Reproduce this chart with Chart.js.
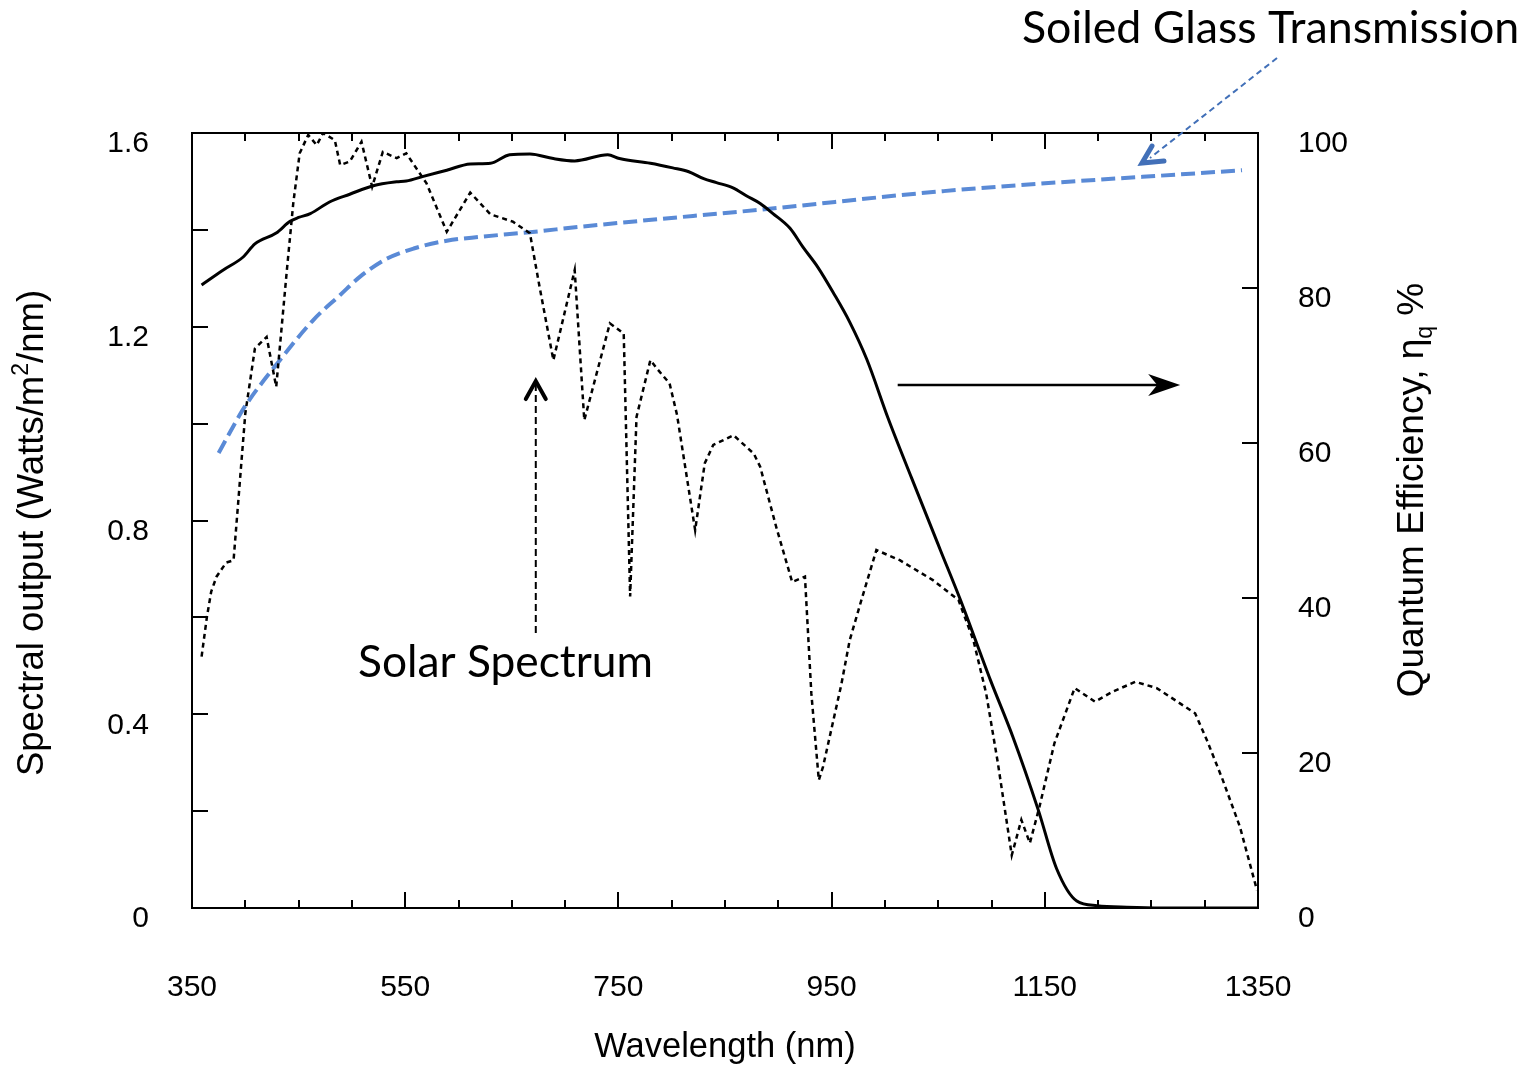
<!DOCTYPE html>
<html><head><meta charset="utf-8">
<script src="https://cdn.jsdelivr.net/npm/chart.js@4/dist/chart.umd.min.js"></script>
<style>html,body{margin:0;padding:0;background:#fff}#wrap{width:1536px;height:1070px}</style>
</head><body><div id="wrap"><canvas id="c" width="1536" height="1070"></canvas></div>
<script>
// ---- data ----
const solarWl = [359,364,368,373,382,389,400,409,420,429,439,445,451,459,467,473,484,489,498,509,519,529,542,551,570,589,611,630,651,667,676,689,709,718,742,755,761,767,780,786,798,805,822,831,839,858,877,883,898,913,925,931,938,942,959,967,978,992,1014,1045,1069,1083,1095,1106,1119,1128,1136,1145,1159,1178,1197,1214,1235,1255,1291,1302,1317,1333,1349];
const solarVal = [0.519,0.601,0.653,0.684,0.713,0.718,1.021,1.155,1.179,1.076,1.317,1.455,1.558,1.596,1.575,1.600,1.585,1.534,1.541,1.582,1.489,1.561,1.548,1.558,1.496,1.396,1.477,1.432,1.417,1.393,1.283,1.131,1.317,1.007,1.207,1.186,0.643,1.014,1.131,1.114,1.083,1.018,0.780,0.918,0.956,0.976,0.938,0.911,0.787,0.673,0.684,0.443,0.264,0.292,0.460,0.553,0.636,0.739,0.718,0.677,0.636,0.553,0.443,0.299,0.109,0.182,0.134,0.209,0.340,0.454,0.426,0.447,0.467,0.454,0.402,0.347,0.264,0.168,0.037];
const qeWl = [359,379,398,409,429,442,450,461,479,498,520,542,551,567,589,611,630,648,667,689,709,740,751,780,801,816,830,842,858,870,883,895,911,923,937,952,967,983,1003,1025,1052,1071,1099,1120,1144,1161,1180,1199,1227,1260,1350];
const qeVal = [80.4,82.3,84.0,85.7,87.1,88.6,89.1,89.6,91.1,92.1,93.2,93.7,93.8,94.4,95.2,96.0,96.1,97.2,97.3,96.7,96.4,97.2,96.7,96.1,95.5,95.0,94.1,93.6,92.9,91.9,90.9,89.6,87.7,85.3,82.7,79.3,75.6,70.8,63.2,55.5,46.2,39.7,29.4,22.1,12.6,5.1,0.9,0.3,0.1,0,0];
const glassWl = [375,393,401,429,464,489,508,533,558,589,620,667,714,820,883,1055,1335];
const glassVal = [58.7,63.2,65.0,70.1,75.9,79.1,81.5,83.8,85.1,86.1,86.6,87.2,87.9,89.3,90.1,92.5,95.2];
const xTickLabels = [350,550,750,950,1150,1350];
const leftTickLabels = ['0','0.4','0.8','1.2','1.6'];
const rightTickLabels = ['0','20','40','60','80','100'];

const pts = (xs, ys) => xs.map((v, i) => ({x: v, y: ys[i]}));
const TICKFONT = {family: "'Liberation Sans', Arial, sans-serif", size: 30};
const TITLEFONT = "'Liberation Sans', Arial, sans-serif";

const deco = {
  id: 'deco',
  afterDatasetsDraw(chart) {
    const {ctx, chartArea: a, scales} = chart;
    const x = scales.x, y = scales.y, y1 = scales.y1;
    ctx.save();
    ctx.strokeStyle = '#000';
    ctx.lineWidth = 2;
    ctx.strokeRect(a.left, a.top, a.right - a.left, a.bottom - a.top);
    ctx.beginPath();
    x.ticks.forEach(t => {
      const px = Math.round(x.getPixelForValue(t.value));
      const L = xTickLabels.includes(t.value) ? 16 : 8;
      ctx.moveTo(px, a.bottom); ctx.lineTo(px, a.bottom - L);
      ctx.moveTo(px, a.top); ctx.lineTo(px, a.top + L);
    });
    y.ticks.forEach(t => {
      const py = Math.round(y.getPixelForValue(t.value));
      ctx.moveTo(a.left, py); ctx.lineTo(a.left + 16, py);
    });
    y1.ticks.forEach(t => {
      const py = Math.round(y1.getPixelForValue(t.value));
      ctx.moveTo(a.right, py); ctx.lineTo(a.right - 16, py);
    });
    ctx.stroke();
    ctx.restore();
  },
  afterDraw(chart) {
    const {ctx, chartArea: a, scales} = chart;
    const x = scales.x, y = scales.y, y1 = scales.y1;
    ctx.save();
    // ---- left axis title with superscript ----
    ctx.fillStyle = '#000';
    ctx.save();
    ctx.translate(33, 533);
    ctx.rotate(-Math.PI / 2);
    ctx.textBaseline = 'middle';
    const big = '36.5px ' + TITLEFONT, small = '23px ' + TITLEFONT;
    const p1 = 'Spectral output (Watts/m', p2 = '2', p3 = '/nm)';
    ctx.font = big; const w1 = ctx.measureText(p1).width, w3 = ctx.measureText(p3).width;
    ctx.font = small; const w2 = ctx.measureText(p2).width;
    let sx = -(w1 + w2 + w3) / 2;
    ctx.textAlign = 'left';
    ctx.font = big; ctx.fillText(p1, sx, 0); sx += w1;
    ctx.font = small; ctx.fillText(p2, sx, -11); sx += w2;
    ctx.font = big; ctx.fillText(p3, sx, 0);
    ctx.restore();
    // ---- right axis title with subscript ----
    ctx.save();
    ctx.translate(1413, 490);
    ctx.rotate(-Math.PI / 2);
    ctx.textBaseline = 'middle';
    const bigR = '37px ' + TITLEFONT, smallR = '23px ' + TITLEFONT;
    const q1 = 'Quantum Efficiency, \u03B7', q2 = 'q', q3 = ' %';
    ctx.font = bigR; const v1 = ctx.measureText(q1).width, v3 = ctx.measureText(q3).width;
    ctx.font = smallR; const v2 = ctx.measureText(q2).width;
    let qx = -(v1 + v2 + v3) / 2;
    ctx.textAlign = 'left';
    ctx.font = bigR; ctx.fillText(q1, qx, 0); qx += v1;
    ctx.font = smallR; ctx.fillText(q2, qx, 13); qx += v2;
    ctx.font = bigR; ctx.fillText(q3, qx, 0);
    ctx.restore();

    // ---- annotation texts ----
    const fitFont = (txt, width) => {
      ctx.font = '100px Lato, "Open Sans", sans-serif';
      const w = ctx.measureText(txt).width;
      return (100 * width / w).toFixed(1) + 'px Lato, "Open Sans", sans-serif';
    };
    ctx.textAlign = 'left';
    ctx.textBaseline = 'alphabetic';
    ctx.fillStyle = '#000';
    const t1 = 'Soiled Glass Transmission';
    ctx.font = fitFont(t1, 497);
    ctx.fillText(t1, 1022, 43);
    const t2 = 'Solar Spectrum';
    ctx.font = fitFont(t2, 295);
    ctx.fillText(t2, 358, 677);

    // ---- black horizontal arrow (points to right axis) ----
    const ay = y1.getPixelForValue(67.5);
    const ax0 = x.getPixelForValue(1012), ax1 = x.getPixelForValue(1277);
    ctx.strokeStyle = '#000';
    ctx.lineWidth = 2.5;
    ctx.beginPath(); ctx.moveTo(ax0, ay); ctx.lineTo(ax1 - 20, ay); ctx.stroke();
    ctx.beginPath();
    ctx.moveTo(ax1, ay); ctx.lineTo(ax1 - 32, ay - 11); ctx.lineTo(ax1 - 23, ay); ctx.lineTo(ax1 - 32, ay + 11);
    ctx.closePath(); ctx.fillStyle = '#000'; ctx.fill();

    // ---- dashed vertical arrow from "Solar Spectrum" ----
    const vx = x.getPixelForValue(672.5);
    const vy0 = y.getPixelForValue(0.568), vy1 = y.getPixelForValue(1.090);
    ctx.setLineDash([7, 4]);
    ctx.lineWidth = 2;
    ctx.beginPath(); ctx.moveTo(vx, vy0); ctx.lineTo(vx, vy1 + 4); ctx.stroke();
    ctx.setLineDash([]);
    ctx.lineWidth = 4;
    ctx.lineCap = 'round'; ctx.lineJoin = 'miter';
    ctx.beginPath(); ctx.moveTo(vx - 10, vy1 + 19); ctx.lineTo(vx, vy1 + 1); ctx.lineTo(vx + 10, vy1 + 19); ctx.stroke();

    // ---- blue dashed arrow from "Soiled Glass Transmission" ----
    ctx.strokeStyle = '#4270b8';
    ctx.fillStyle = '#4270b8';
    ctx.lineWidth = 2;
    ctx.lineCap = 'butt';
    ctx.setLineDash([6, 4]);
    ctx.beginPath(); ctx.moveTo(1277, 58); ctx.lineTo(1150, 158); ctx.stroke();
    ctx.setLineDash([]);
    ctx.lineWidth = 5;
    ctx.lineCap = 'round';
    ctx.beginPath(); ctx.moveTo(1152, 146); ctx.lineTo(1142, 163); ctx.lineTo(1164, 161); ctx.stroke();
    ctx.restore();
  }
};

new Chart(document.getElementById('c'), {
  type: 'line',
  data: {
    datasets: [
      {label: 'Solar Spectrum', data: pts(solarWl, solarVal), yAxisID: 'y', borderColor: '#000', borderWidth: 2.5, borderDash: [5, 4], pointRadius: 0, tension: 0, fill: false},
      {label: 'Quantum Efficiency', data: pts(qeWl, qeVal), yAxisID: 'y1', borderColor: '#000', borderWidth: 3, pointRadius: 0, cubicInterpolationMode: 'monotone', fill: false},
      {label: 'Soiled Glass Transmission', data: pts(glassWl, glassVal), yAxisID: 'y1', borderColor: '#5a8ad6', borderWidth: 4, borderDash: [14, 6], pointRadius: 0, cubicInterpolationMode: 'monotone', fill: false}
    ]
  },
  options: {
    responsive: false,
    animation: false,
    devicePixelRatio: 1,
    layout: {padding: {top: 133, left: 0, right: 0, bottom: 0}},
    plugins: {legend: {display: false}, tooltip: {enabled: false}},
    scales: {
      x: {
        type: 'linear', min: 350, max: 1350, position: 'bottom',
        grid: {display: false, drawTicks: false}, border: {display: false},
        ticks: {stepSize: 50, autoSkip: false, maxRotation: 0, padding: 62, color: '#000', font: TICKFONT,
          callback: v => xTickLabels.includes(v) ? String(v) : ''},
        title: {display: true, text: 'Wavelength (nm)', color: '#000', font: {family: TITLEFONT, size: 34.5}, padding: {top: 0, bottom: 2}},
        afterFit: s => { s.height = 162; }
      },
      y: {
        type: 'linear', min: 0, max: 1.6, position: 'left',
        grid: {display: false, drawTicks: false}, border: {display: false},
        ticks: {stepSize: 0.2, autoSkip: false, padding: 43, labelOffset: 11, color: '#000', font: TICKFONT,
          callback: v => { const i = Math.round(v / 0.4); return Math.abs(v - i * 0.4) < 1e-6 ? leftTickLabels[i] : ''; }},
        afterFit: s => { s.width = 192; }
      },
      y1: {
        type: 'linear', min: 0, max: 100, position: 'right',
        grid: {display: false, drawTicks: false}, border: {display: false},
        ticks: {stepSize: 20, autoSkip: false, padding: 40, labelOffset: 11, color: '#000', font: TICKFONT,
          callback: v => rightTickLabels[Math.round(v / 20)]},
        afterFit: s => { s.width = 278; }
      }
    }
  },
  plugins: [deco]
});
</script>
</body></html>
